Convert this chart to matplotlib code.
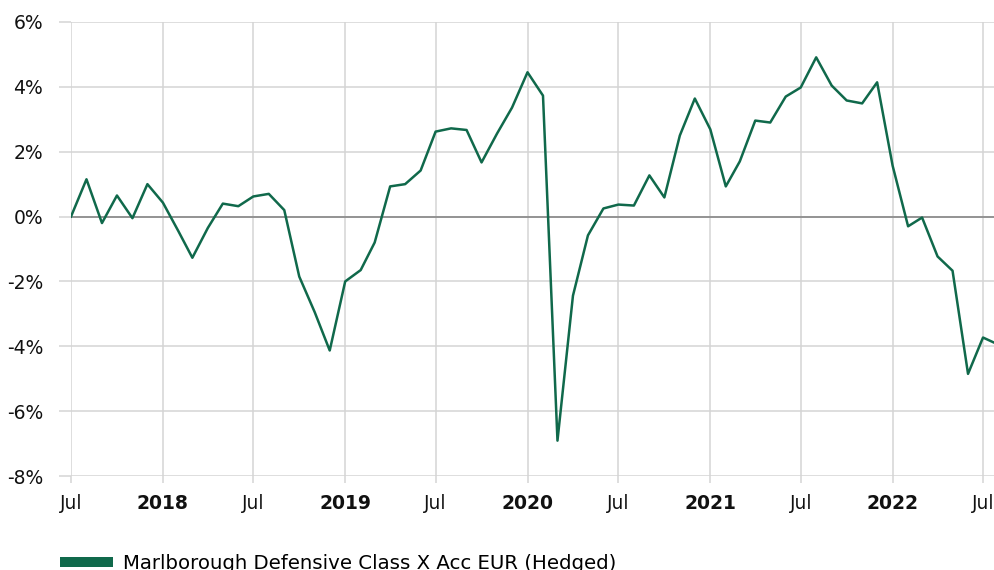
import pandas as pd
import matplotlib
matplotlib.use('Agg')
import matplotlib.pyplot as plt
from matplotlib.patches import Patch

# monthly performance, Jul 2017 - Jul 2022 (plus last partial month)
dates = list(pd.date_range('2017-07-01', '2022-07-01', freq='MS')) + [pd.Timestamp('2022-07-25')]
values = [0.0, 1.15, -0.2, 0.65, -0.05, 1.0,
          0.43, -0.45, -1.27, -0.35, 0.4, 0.32,
          0.62, 0.7, 0.2, -1.85, -2.95, -4.13,
          -2.0, -1.65, -0.8, 0.93, 1.0, 1.42,
          2.62, 2.72, 2.67, 1.67, 2.56, 3.36,
          4.45, 3.73, -6.91, -2.44, -0.58, 0.25,
          0.37, 0.34, 1.27, 0.59, 2.5, 3.64,
          2.69, 0.93, 1.7, 2.96, 2.9, 3.7,
          3.98, 4.91, 4.04, 3.58, 3.49, 4.14,
          1.57, -0.3, -0.03, -1.23, -1.67, -4.85,
          -3.73, -3.9]
series_name = 'Marlborough Defensive Class X Acc EUR (Hedged)'

tick_dates = pd.date_range('2017-07-01', '2022-07-01', freq='6MS')
tick_labels = ['Jul', '2018', 'Jul', '2019', 'Jul', '2020', 'Jul', '2021', 'Jul', '2022', 'Jul']
y_ticks = [-8, -6, -4, -2, 0, 2, 4, 6]

green = '#10694b'
grid = '#d4d4d4'

plt.rcParams['font.family'] = 'DejaVu Sans'
fig = plt.figure(figsize=(9.95, 5.7), dpi=100)
ax = fig.add_axes([71 / 995, 94 / 570, 924 / 995, 454 / 570])

ax.plot(dates, values, color=green, linewidth=1.8, zorder=3)
ax.axhline(0, color='#808080', linewidth=1.1, zorder=2)

ax.set_xlim(dates[0], dates[-1])
ax.set_ylim(-8, 6)
ax.set_yticks(y_ticks)
ax.set_yticklabels([f'{v}%' for v in y_ticks])
ax.set_xticks(tick_dates)
ax.set_xticklabels(tick_labels)
for lbl in ax.get_xticklabels():
    if lbl.get_text() != 'Jul':
        lbl.set_fontweight('bold')

ax.grid(True, color=grid, linewidth=1.1, zorder=0)
for s in ax.spines.values():
    s.set_visible(False)
ax.tick_params(axis='y', length=9, width=1.1, color=grid, pad=11, labelsize=13.5, labelcolor='#111111')
ax.tick_params(axis='x', length=5, width=1.1, color=grid, pad=8, labelsize=13.5, labelcolor='#111111')

handle = Patch(facecolor=green, edgecolor='none')
fig.legend([handle], [series_name], loc='lower left', bbox_to_anchor=(60 / 995, -3 / 570),
           frameon=False, fontsize=14.2, handlelength=2.7, handleheight=0.4,
           handletextpad=0.5, borderpad=0, borderaxespad=0)

fig.savefig('out.png', dpi=100)
